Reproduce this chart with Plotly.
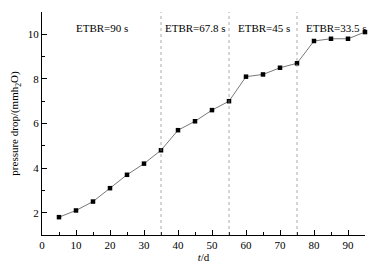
import plotly.graph_objects as go

days = [5, 10, 15, 20, 25, 30, 35, 40, 45, 50, 55, 60, 65, 70, 75, 80, 85, 90, 95]
pressure_drop = [1.8, 2.1, 2.5, 3.1, 3.7, 4.2, 4.8, 5.7, 6.1, 6.6, 7.0, 8.1, 8.2, 8.5, 8.7, 9.7, 9.8, 9.8, 10.1]
boundaries = [35, 55, 75]
labels = ["ETBR=90 s", "ETBR=67.8 s", "ETBR=45 s", "ETBR=33.5 s"]
label_x = [17.7, 45.0, 65.2, 95.0]
label_anchor = ["center", "center", "center", "right"]
label_shift = [0, 0, 0, 4]
label_y = 10.3

font = "Liberation Serif"
fs = 11

fig = go.Figure()
fig.add_trace(go.Scatter(
    x=days, y=pressure_drop, mode="lines+markers",
    line=dict(color="#555555", width=0.8),
    marker=dict(symbol="square", size=4.5, color="black"),
    showlegend=False, cliponaxis=False,
))

for b in boundaries:
    fig.add_shape(type="line", x0=b, x1=b, y0=0, y1=1, xref="x", yref="paper",
                  line=dict(color="#888888", width=0.7, dash="dot"))

for t, xv, an, sh in zip(labels, label_x, label_anchor, label_shift):
    fig.add_annotation(x=xv, y=label_y, text=t, showarrow=False,
                       font=dict(family=font, size=fs, color="black"),
                       xanchor=an, yanchor="middle", xshift=sh)

fig.update_layout(
    width=382, height=257,
    margin=dict(l=34, r=25, t=4, b=30),
    plot_bgcolor="white", paper_bgcolor="white",
    font=dict(family=font, size=fs, color="black"),
    xaxis=dict(
        range=[0, 95], tickvals=[0, 10, 20, 30, 40, 50, 60, 70, 80, 90],
        ticks="inside", ticklen=5, tickwidth=1, tickcolor="black",
        minor=dict(tickvals=[5, 15, 25, 35, 45, 55, 65, 75, 85, 95], ticks="inside", ticklen=3, tickcolor="black"),
        showline=True, linecolor="black", linewidth=1, showgrid=False, zeroline=False,
        title=dict(text="<i>t</i>/d", standoff=2, font=dict(family=font, size=fs)),
        tickfont=dict(family=font, size=fs),
    ),
    yaxis=dict(
        range=[1, 11], tickvals=[2, 4, 6, 8, 10],
        ticks="inside", ticklen=5, tickwidth=1, tickcolor="black",
        minor=dict(tickvals=[1, 3, 5, 7, 9, 11], ticks="inside", ticklen=3, tickcolor="black"),
        showline=True, linecolor="black", linewidth=1, showgrid=False, zeroline=False,
        title=dict(text="pressure drop/(mmh<sub>2</sub>O)", standoff=6, font=dict(family=font, size=fs)),
        tickfont=dict(family=font, size=fs),
    ),
)

fig.write_html("out.html", config={"displayModeBar": False})
